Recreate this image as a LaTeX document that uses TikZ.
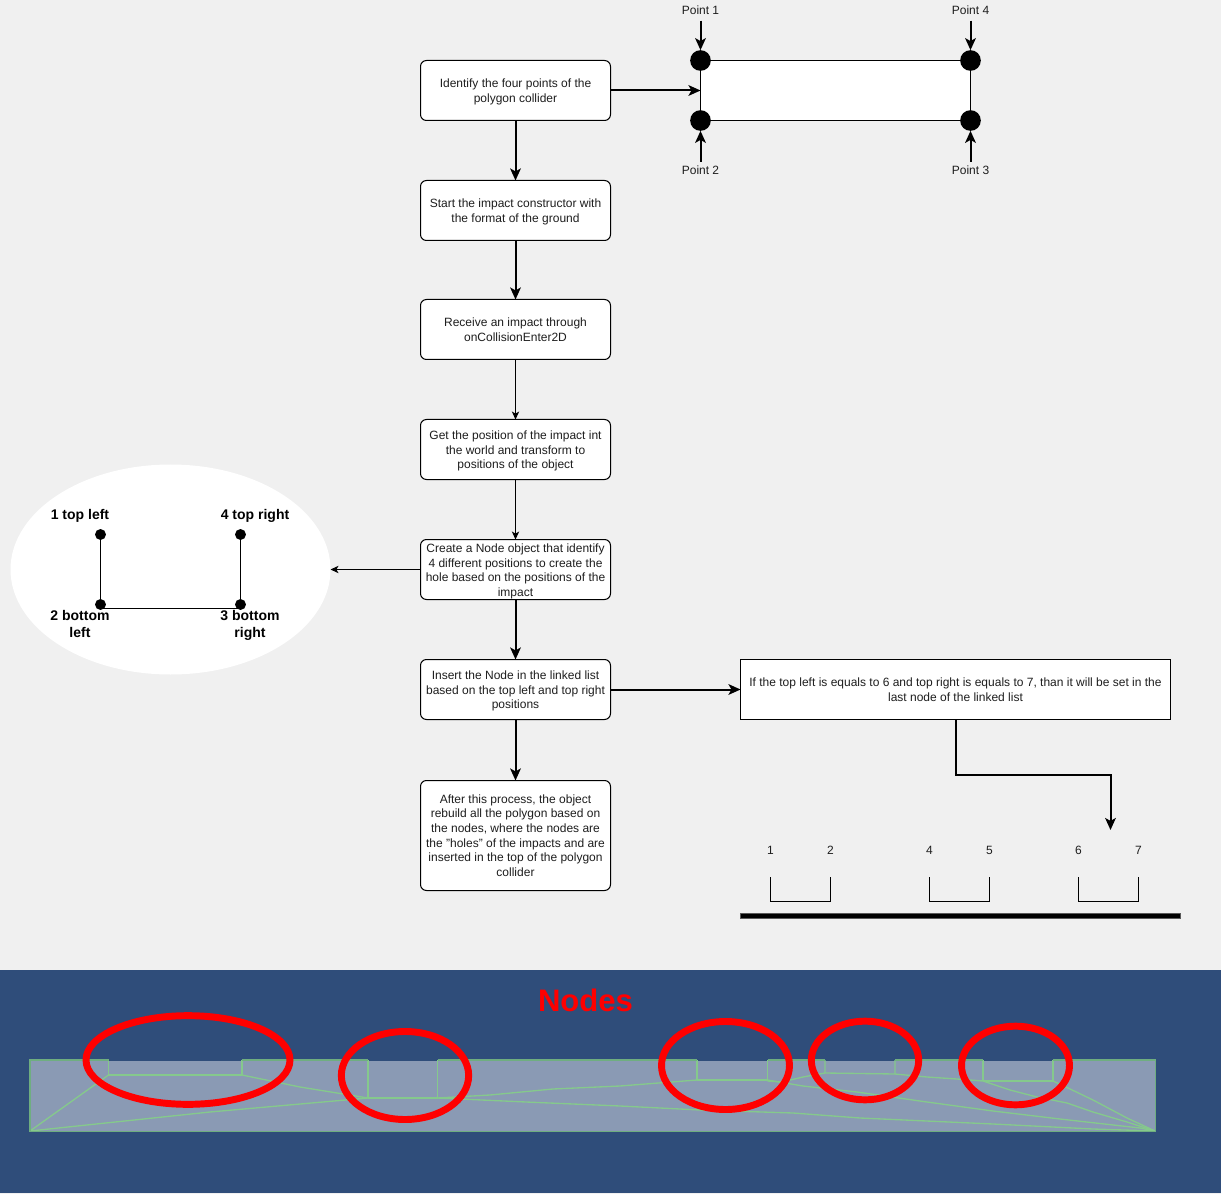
\documentclass[tikz,border=0pt]{standalone}
\usepackage{fontspec}
\setmainfont{Liberation Sans}
\usetikzlibrary{arrows.meta,shapes.geometric,calc}
\definecolor{pagebg}{HTML}{F0F0F0}
\definecolor{band}{HTML}{2F4D7A}
\definecolor{poly}{HTML}{8A9AB4}
\definecolor{edgegreen}{HTML}{6FAE80}
\definecolor{meshgreen}{HTML}{85C98C}
\definecolor{inktext}{HTML}{1E1E1E}
\newcommand{\lowerit}{\rule{0pt}{8.9pt}}
\tikzset{
  px/.style={x=0.75pt,y=-0.75pt},
  flowbox/.style={draw=black,fill=white,rounded corners=4.5pt,line width=.75pt,
    minimum width=142.5pt,minimum height=#1,inner sep=0pt,outer sep=0pt,align=center,
    text=inktext,font=\fontsize{9}{10.9}\selectfont},
  flowbox/.default=45pt,
  notebox/.style={draw=black,fill=white,line width=.75pt,minimum width=322.5pt,
    minimum height=45pt,inner sep=0pt,outer sep=0pt,align=center,text=inktext,
    font=\fontsize{9}{10.9}\selectfont},
  polybox/.style={draw=black,fill=white,line width=.75pt,minimum width=202.5pt,
    minimum height=45pt,inner sep=0pt,outer sep=0pt},
  bigdot/.style={circle,fill=black,minimum size=15.5pt,inner sep=0pt,outer sep=0pt},
  smalldot/.style={circle,fill=black,minimum size=8.2pt,inner sep=0pt,outer sep=0pt},
  plainlabel/.style={inner sep=0pt,outer sep=0pt,text=inktext,font=\fontsize{9}{10.9}\selectfont,align=center},
  boldlabel/.style={inner sep=0pt,outer sep=0pt,text=black,align=center,font=\fontsize{10.5}{12.9}\selectfont\bfseries},
  thinflow/.style={line width=.75pt,-{Stealth[length=6pt,width=5.5pt,inset=1.6pt]}},
  thickflow/.style={line width=1.5pt,-{Stealth[length=9pt,width=8pt,inset=2.2pt]}},
  bracket/.style={line width=.75pt,black},
  meshline/.style={meshgreen,line width=1pt,line join=round},
  redring/.style={ellipse,draw=red,line width=5.2pt,inner sep=0pt,outer sep=0pt},
}
\begin{document}
\begin{tikzpicture}[px]
\useasboundingbox (0,0) rectangle (1221,1194);
\fill[pagebg] (0,0) rectangle (1221,1194);

% flow
\node[flowbox] (a) at (515.5,90.5) {\lowerit Identify the four points of the\\polygon collider};
\node[flowbox] (b) at (515.5,210.5) {\lowerit Start the impact constructor with\\the format of the ground};
\node[flowbox] (c) at (515.5,329.5) {Receive an impact through\\onCollisionEnter2D};
\node[flowbox] (d) at (515.5,449.5) {\lowerit Get the position of the impact int\\the world and transform to\\positions of the object};
\node[flowbox] (e) at (515.5,569.5) {\rule{0pt}{9.6pt}Create a Node object that identify\\4 different positions to create the\\hole based on the positions of the\\impact};
\node[flowbox] (f) at (515.5,689.5) {\lowerit Insert the Node in the linked list\\based on the top left and top right\\positions};
\node[flowbox=82.5pt] (g) at (515.5,835.5) {After this process, the object\\rebuild all the polygon based on\\the nodes, where the nodes are\\the "holes" of the impacts and are\\inserted in the top of the polygon\\collider};
\node[notebox] (note) at (955.5,689.5) {If the top left is equals to 6 and top right is equals to 7, than it will be set in the\\last node of the linked list};

\draw[thickflow] (a) -- (b);
\draw[thickflow] (b) -- (c);
\draw[thinflow] (c) -- (d);
\draw[thinflow] (d) -- (e);
\draw[thickflow] (e) -- (f);
\draw[thickflow] (f) -- (g);
\draw[thickflow] (f) -- (note);

% polygon collider
\node[polybox] (rect) at (835.5,90.5) {};
\draw[thickflow] (a) -- (rect);
\node[bigdot] (p1) at (700.5,60.5) {};
\node[bigdot] (p4) at (970.5,60.5) {};
\node[bigdot] (p2) at (700.5,120.5) {};
\node[bigdot] (p3) at (970.5,120.5) {};
\node[plainlabel] (l1) at (700.5,10.2) {Point 1};
\node[plainlabel] (l4) at (970.5,10.2) {Point 4};
\node[plainlabel] (l2) at (700.5,170.2) {Point 2};
\node[plainlabel] (l3) at (970.5,170.2) {Point 3};
\draw[thickflow,shorten <=4.5pt] (l1) -- (p1);
\draw[thickflow,shorten <=4.5pt] (l4) -- (p4);
\draw[thickflow,shorten <=3pt] (l2) -- (p2);
\draw[thickflow,shorten <=3pt] (l3) -- (p3);

% hole sketch
\node[ellipse,fill=white,minimum width=240pt,minimum height=157.5pt,inner sep=0pt,outer sep=0pt] (oval) at (170.5,569.5) {};
\draw[thinflow] (e.west) -- (oval.east);
\node[smalldot] (tl) at (100.5,534.5) {};
\node[smalldot] (tr) at (240.5,534.5) {};
\node[smalldot] (bl) at (100.5,604.5) {};
\node[smalldot] (br) at (240.5,604.5) {};
\coordinate (blb) at (100.5,608.5);
\coordinate (brb) at (240.5,608.5);
\draw[line width=.75pt] (tl) -- (bl);
\draw[line width=.75pt] (tr) -- (br);
\draw[line width=.75pt] (blb) -- (brb);
\node[boldlabel] (ltl) at (80,516) {1 top left};
\node[boldlabel] (ltr) at (255,516) {4 top right};
\node[boldlabel] (lbl) at (80,624) {2 bottom\\left};
\node[boldlabel] (lbr) at (250,625.8) {3 bottom\\right};

% linked list
\coordinate (elbowa) at (955.5,775);
\coordinate (elbowb) at (1110.5,775);
\coordinate (listin) at (1110.5,830);
\draw[thickflow] (note) -- (elbowa) -- (elbowb) -- (listin);
\foreach \nm/\xx/\lab in {n1/770.5/1,n2/830.5/2,n4/929.5/4,n5/989.5/5,n6/1078.5/6,n7/1138.5/7}{
  \node[plainlabel] (\nm) at (\xx,850) {\lab};
}
\draw[bracket] (770.5,877) -- (770.5,901.5) -- (830.5,901.5) -- (830.5,877);
\draw[bracket] (929.5,877) -- (929.5,901.5) -- (989.5,901.5) -- (989.5,877);
\draw[bracket] (1078.5,877) -- (1078.5,901.5) -- (1138.5,901.5) -- (1138.5,877);
\draw[draw=black!65,fill=black,line width=.5pt] (740.5,913.5) rectangle (1180.5,918.5);

% bottom picture
\fill[band] (0,970) rectangle (1221,1192.5);
\fill[poly] (30,1061) rectangle (1155.5,1131.5);
% triangulation
\begin{scope}[meshline]
\draw (30,1131) -- (108.5,1075);
\draw (30,1131) -- (210,1112) -- (368,1098);
\draw (242,1075) -- (300,1087) -- (368,1098);
\draw (437.5,1098) -- (490,1095) -- (553,1089) -- (620,1086) -- (697,1080);
\draw (437.5,1098) -- (526,1102) -- (620,1106) -- (700,1110) -- (793,1113) -- (860,1118) -- (993,1124) -- (1093,1129) -- (1155,1131);
\draw (767.5,1081) -- (782,1082) -- (803,1077) -- (825,1073);
\draw (767.5,1080) -- (803,1086) -- (857,1092) -- (927,1102) -- (993,1111) -- (1060,1119) -- (1140,1128) -- (1155,1131);
\draw (895,1074) -- (927,1077) -- (957,1079) -- (983,1081);
\draw (983,1081) -- (1010,1090) -- (1037,1097) -- (1067,1103) -- (1093,1112) -- (1127,1122) -- (1155,1131);
\draw (1053,1081) -- (1068,1088) -- (1093,1100) -- (1127,1118) -- (1155,1131);
% holes
\draw[line width=1.1pt] (108.5,1060) -- (108.5,1075) -- (242,1075) -- (242,1060);
\draw[line width=1.1pt] (368,1060) -- (368,1098);
\draw[line width=.8pt] (368,1098) -- (437.5,1098);
\draw[line width=.9pt] (437.5,1098) -- (437.5,1060);
\draw[line width=1.3pt] (697,1060) -- (697,1080) -- (767.5,1080);
\draw[line width=.7pt] (767.5,1080) -- (767.5,1060);
\draw[line width=1pt] (825,1060) -- (825,1073) -- (895,1074) -- (895,1060);
\draw[line width=1.1pt] (983,1060) -- (983,1081);
\draw[line width=.8pt] (983,1081) -- (1053,1081) -- (1053,1060);
\end{scope}
% outline
\draw[edgegreen,line width=1pt] (108.5,1060) -- (30,1060) -- (30,1131.5) -- (1155.5,1131.5) -- (1155.5,1060) -- (1053,1060);
\draw[edgegreen,line width=1pt] (242,1060) -- (368,1060);
\draw[edgegreen,line width=1pt] (437.5,1060) -- (697,1060);
\draw[edgegreen,line width=1pt] (767.5,1060) -- (825,1060);
\draw[edgegreen,line width=1pt] (895,1060) -- (983,1060);

\node[redring,minimum width=153pt,minimum height=66.5pt] (r1) at (188,1060) {};
\node[redring,minimum width=95.5pt,minimum height=66pt] (r2) at (405,1075.5) {};
\node[redring,minimum width=96pt,minimum height=66pt] (r3) at (725.5,1065.5) {};
\node[redring,minimum width=80.5pt,minimum height=59pt] (r4) at (865,1060.5) {};
\node[redring,minimum width=81pt,minimum height=59pt] (r5) at (1015.5,1065.5) {};
\node[inner sep=0pt,outer sep=0pt,text=red,font=\fontsize{23.3}{28}\selectfont\bfseries] (title) at (585.5,1000) {Nodes};
\end{tikzpicture}
\end{document}
